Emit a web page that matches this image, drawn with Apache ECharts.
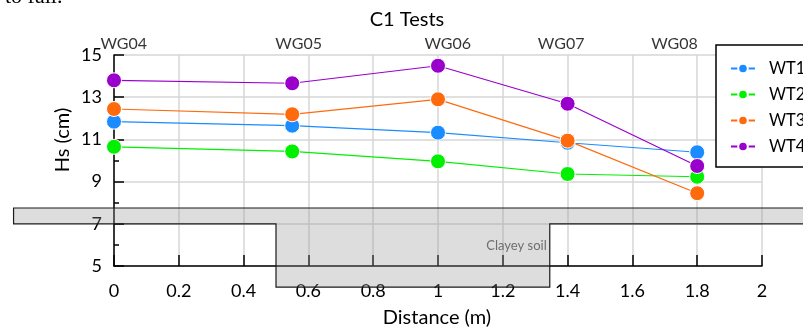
<!DOCTYPE html>
<html>
<head>
<meta charset="utf-8">
<script src="https://cdn.jsdelivr.net/npm/echarts@6/dist/echarts.min.js"></script>
<style>
  html, body { margin: 0; padding: 0; background: #fff; }
  #chart { width: 803px; height: 334px; }
</style>
</head>
<body>
<div id="chart"></div>
<script>
// Wave gauge distances along the flume (m)
const distance = [0, 0.55, 1.0, 1.4, 1.8];

// Significant wave height Hs (cm) for each test
const wt1 = [11.84, 11.65, 11.32, 10.84, 10.39];
const wt2 = [10.65, 10.43, 9.96, 9.36, 9.23];
const wt3 = [12.44, 12.19, 12.90, 10.94, 8.45];
const wt4 = [13.80, 13.66, 14.49, 12.69, 9.74];

const seriesNames = ['WT1', 'WT2', 'WT3', 'WT4'];
const seriesColors = ['#1a8cff', '#00f000', '#ff6a0d', '#9900cc'];

// Gauge names written along the top of the plot
const gaugeNames = ['WG04', 'WG05', 'WG06', 'WG07', 'WG08'];
const gaugeLabelX = [0.03, 0.57, 1.03, 1.38, 1.73];

// Bed profile: sandy layer plus clayey soil pocket (distance m, level on Hs scale)
const soilOutline = [
  [-0.31, 7.75], [2.3, 7.75], [2.3, 7], [1.345, 7],
  [1.345, 4], [0.5, 4], [0.5, 7], [-0.31, 7]
];
const soilLabel = 'Clayey soil';
const soilLabelPos = [1.345, 5.96];

const FONT = 'Lato, "Open Sans", sans-serif';
const allValues = [wt1, wt2, wt3, wt4];

const chart = echarts.init(document.getElementById('chart'), null, { renderer: 'canvas' });

const lineSeries = seriesNames.map((name, i) => ({
  name: name,
  type: 'line',
  z: 3,
  data: distance.map((d, j) => [d, allValues[i][j]]),
  symbol: 'circle',
  symbolSize: 15,
  color: seriesColors[i],
  lineStyle: { width: 1.2, color: seriesColors[i] },
  itemStyle: { color: seriesColors[i], borderColor: '#fff', borderWidth: 1 },
  emphasis: { disabled: true },
  animation: false
}));

const option = {
  animation: false,
  backgroundColor: '#fff',
  textStyle: { fontFamily: FONT },
  grid: { left: 114, right: 41, top: 55, bottom: 68, containLabel: false },
  legend: {
    orient: 'vertical',
    left: 716,
    top: 45,
    data: seriesNames,
    itemWidth: 24,
    itemHeight: 12,
    itemGap: 9,
    padding: [15, 40, 12, 14],
    borderColor: '#000',
    borderWidth: 1.5,
    backgroundColor: '#fff',
    textStyle: { fontFamily: FONT, fontSize: 16.5, color: '#000', lineHeight: 16, padding: [0, 0, 0, 9] },
    selectedMode: false
  },
  xAxis: {
    type: 'value',
    min: 0, max: 2, interval: 0.2,
    axisLine: { show: true, lineStyle: { color: '#000', width: 1.5 } },
    axisTick: { show: true, inside: true, length: 11, lineStyle: { color: '#000', width: 1.5 } },
    axisLabel: { fontFamily: FONT, fontSize: 18, color: '#000', margin: 16 },
    splitLine: { show: true, lineStyle: { color: '#d6d6d6', width: 1.5 } }
  },
  yAxis: {
    type: 'value',
    min: 5, max: 15, interval: 2,
    axisLine: { show: true, lineStyle: { color: '#000', width: 1.5 } },
    axisTick: { show: true, inside: true, length: 10, lineStyle: { color: '#000', width: 1.5 } },
    minorTick: { show: true, splitNumber: 2, length: 5, lineStyle: { color: '#000', width: 1.5 } },
    axisLabel: { fontFamily: FONT, fontSize: 18, color: '#000', margin: 12 },
    splitLine: { show: true, lineStyle: { color: '#d6d6d6', width: 1.5 } }
  },
  graphic: [
    { type: 'text', x: 407, y: 20, style: { text: 'C1 Tests', font: '20px ' + FONT, fill: '#000', align: 'center', verticalAlign: 'middle' } },
    { type: 'text', x: 437, y: 318, style: { text: 'Distance (m)', font: '20px ' + FONT, fill: '#000', align: 'center', verticalAlign: 'middle' } },
    { type: 'text', x: 63, y: 140, rotation: Math.PI / 2, style: { text: 'Hs (cm)', font: '20px ' + FONT, fill: '#000', align: 'center', verticalAlign: 'middle' } },
    { type: 'text', x: 5, y: -3, style: { text: 'to fail.', font: '22px "Liberation Serif", serif', fill: '#000', align: 'left', verticalAlign: 'middle' } }
  ],
  series: [
    {
      name: 'soil',
      type: 'custom',
      z: 1,
      clip: false,
      silent: true,
      data: [0],
      renderItem: function (params, api) {
        const pts = soilOutline.map(p => api.coord(p));
        const lp = api.coord(soilLabelPos);
        return {
          type: 'group',
          children: [
            { type: 'polygon', shape: { points: pts }, style: { fill: 'rgba(150,150,150,0.32)', stroke: '#1a1a1a', lineWidth: 1.2 } },
            { type: 'text', x: lp[0] - 3, y: lp[1], style: { text: soilLabel, align: 'right', verticalAlign: 'middle', fill: '#6e6e6e', font: '13px ' + FONT } }
          ]
        };
      }
    },
    {
      name: 'gauges',
      type: 'scatter',
      z: 2,
      silent: true,
      symbolSize: 0,
      data: gaugeLabelX.map(x => [x, 15]),
      label: {
        show: true,
        position: 'top',
        distance: 3,
        formatter: p => gaugeNames[p.dataIndex],
        fontFamily: FONT, fontSize: 16, lineHeight: 16, color: '#000'
      }
    }
  ].concat(lineSeries)
};

chart.setOption(option);
</script>
</body>
</html>
